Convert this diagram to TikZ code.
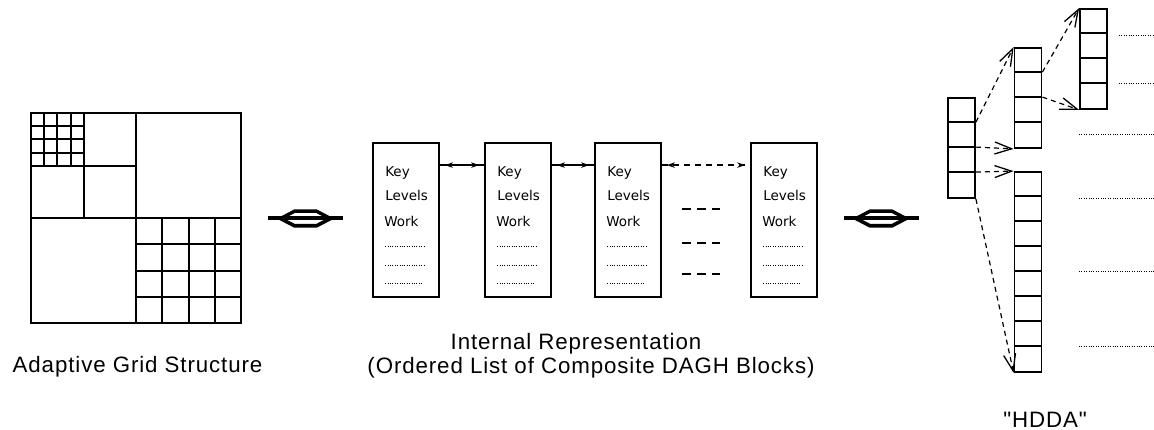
\documentclass[tikz,border=0pt]{standalone}
\usepackage{fontspec}
\setmainfont{Liberation Sans}
\newfontfamily\labelfont[LetterSpace=4]{Liberation Sans}
\newfontfamily\cellfont{DejaVu Sans}
\usetikzlibrary{arrows.meta,decorations.markings,calc}

\tikzset{
  gridline/.style={line width=1.8pt},
  blockbox/.style={draw, line width=1.8pt, rectangle, inner sep=0pt,
    minimum width=66pt, minimum height=154pt},
  celltext/.style={anchor=base west, inner sep=0pt,
    font=\cellfont\fontsize{13.5}{16}\selectfont},
  caption/.style={anchor=base, inner sep=0pt,
    font=\labelfont\fontsize{22.3}{26}\selectfont},
  dotline/.style={line width=0.8pt, dash pattern=on 1pt off 1.4pt},
  ellipsisdash/.style={line width=1.6pt, dash pattern=on 9pt off 6pt},
  link/.style={line width=1.3pt,
    decoration={markings,
      mark=at position 5pt with {\arrowreversed{Stealth[length=8pt,width=5.5pt]}},
      mark=at position -5pt with {\arrow{Stealth[length=8pt,width=5.5pt]}}},
    postaction=decorate},
  hcol/.style={draw, line width=1.8pt, rectangle, inner sep=0pt,
    minimum width=27pt},
  cellline/.style={line width=1.8pt},
  hdarrow/.style={line width=1.2pt, dash pattern=on 5pt off 4pt,
    -{Straight Barb[length=17pt,width=12pt,line width=1.3pt]}},
  twoway/.pic={
    \draw[line width=4pt] (-37.5,0) -- (37.5,0);
    \draw[line width=3.4pt] (-24,0) -- (-11,-6.8) -- (11,-6.8) -- (24,0);
    \draw[line width=3.6pt] (-26,0) -- (-11,7.8) -- (11,7.8) -- (26,0);
  }
}

\begin{document}
\begin{tikzpicture}[x=1pt, y=-1pt]
\useasboundingbox (0,0) rectangle (1154,430);

% ---- adaptive grid ----
\draw[gridline] (31,113) rectangle (241,323);
\draw[gridline] (136,113) -- (136,323);
\draw[gridline] (31,218) -- (241,218);
\draw[gridline] (84,113) -- (84,218);
\draw[gridline] (31,166) -- (136,166);
% finest level, upper left corner
\foreach \v in {44,57,71}
  \draw[gridline] (\v,113) -- (\v,166);
\foreach \v in {126,139,153}
  \draw[gridline] (31,\v) -- (84,\v);
% refined patch, lower right
\foreach \v in {162,189,215}
  \draw[gridline] (\v,218) -- (\v,323);
\foreach \v in {244,271,297}
  \draw[gridline] (136,\v) -- (241,\v);
\node[caption] (lgrid) at (137.5,372.5) {Adaptive Grid Structure};

% ---- two-way mapping signs ----
\pic at (305.5,218) {twoway};
\pic at (881,218) {twoway};

% ---- composite blocks ----
\node[blockbox] (b1) at (406,220) {};
\node[blockbox] (b2) at (518,220) {};
\node[blockbox] (b3) at (628,220) {};
\node[blockbox] (b4) at (784,220) {};
\foreach \n in {1,2,3,4} {
  \node[celltext] (k\n) at ([xshift=13pt,yshift=43pt]b\n.west) {Key};
  \node[celltext] (l\n) at ([xshift=13pt,yshift=19pt]b\n.west) {Levels};
  \node[celltext] (w\n) at ([xshift=12pt,yshift=-7pt]b\n.west) {Work};
  \draw[dotline] ([xshift=13pt,yshift=-26pt]b\n.west) -- ++(40,0);
  \draw[dotline] ([xshift=13pt,yshift=-45pt]b\n.west) -- ++(40,0);
  \draw[dotline] ([xshift=13pt,yshift=-63pt]b\n.west) -- ++(38,0);
}
\draw[link] ([yshift=-23pt]b1.north east) -- ([yshift=-23pt]b2.north west);
\draw[link] ([yshift=-23pt]b2.north east) -- ([yshift=-23pt]b3.north west);
\draw[link, dash pattern=on 6pt off 5pt] ([yshift=-23pt]b3.north east) -- ([yshift=-23pt]b4.north west);
\draw[ellipsisdash] (682,209) -- (720,209);
\draw[ellipsisdash] (682,243) -- (720,243);
\draw[ellipsisdash] (682,274) -- (720,274);
\node[caption] (lint1) at (576,349) {Internal Representation};
\node[caption] (lint2) at (591,373) {(Ordered List of Composite DAGH Blocks)};

% ---- HDDA ----
\node[hcol, minimum height=100pt] (colA) at (961.5,148) {};
\node[hcol, minimum height=100pt] (colB) at (1028,98) {};
\node[hcol, minimum height=100pt] (colC) at (1093.5,59) {};
\node[hcol, minimum height=200pt] (colD) at (1028,272) {};
\foreach \c in {colA,colB,colC} {
  \foreach \k in {1,2,3}
    \draw[cellline] ([yshift={-25pt*\k}]\c.north west) -- ([yshift={-25pt*\k}]\c.north east);
}
\foreach \k in {1,...,7}
  \draw[cellline] ([yshift={-25pt*\k}]colD.north west) -- ([yshift={-25pt*\k}]colD.north east);

\draw[hdarrow] ([yshift=-25pt]colA.north east) -- (colB.north west);
\draw[hdarrow] ([yshift=-50pt]colA.north east) -- (colB.south west);
\draw[hdarrow] ([yshift=-75pt]colA.north east) -- (colD.north west);
\draw[hdarrow] (colA.south east) -- (colD.south west);
\draw[hdarrow] ([yshift=-25pt]colB.north east) -- (colC.north west);
\draw[hdarrow] ([yshift=-50pt]colB.north east) -- (colC.south west);

\draw[dotline] (1119,35) -- (1154,35);
\draw[dotline] (1119,83) -- (1154,83);
\draw[dotline] (1079,134) -- (1154,134);
\draw[dotline] (1079,198) -- (1154,198);
\draw[dotline] (1079,271) -- (1154,271);
\draw[dotline] (1079,346) -- (1154,346);
\node[caption] (lhdda) at (1045,427) {"HDDA"};
\end{tikzpicture}
\end{document}
